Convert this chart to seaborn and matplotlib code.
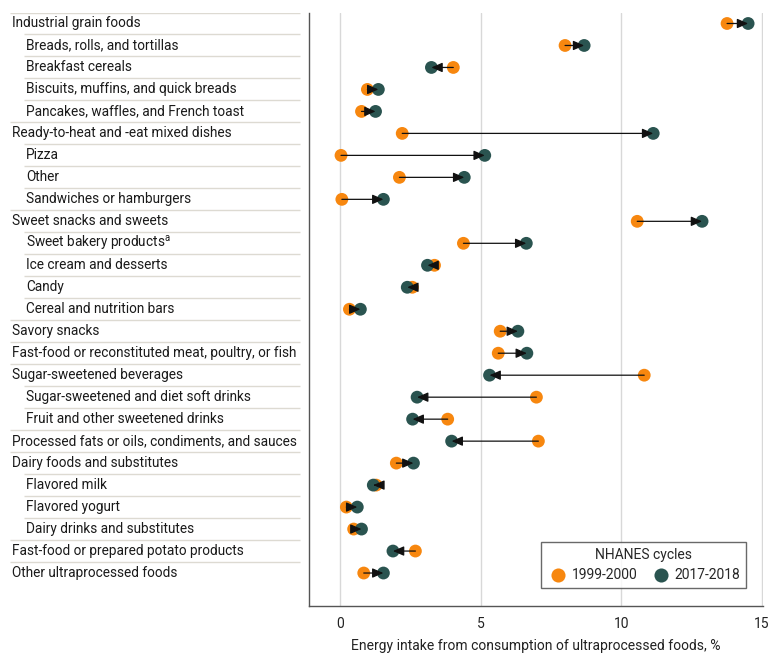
import matplotlib
matplotlib.use("Agg")
import matplotlib.pyplot as plt
import seaborn as sns
import pandas as pd

# categories (top to bottom); subcategories are indented
categories = [
    "Industrial grain foods", "Breads, rolls, and tortillas", "Breakfast cereals",
    "Biscuits, muffins, and quick breads", "Pancakes, waffles, and French toast",
    "Ready-to-heat and -eat mixed dishes", "Pizza", "Other", "Sandwiches or hamburgers",
    "Sweet snacks and sweets", "Sweet bakery products$^{\\mathregular{a}}$",
    "Ice cream and desserts", "Candy", "Cereal and nutrition bars", "Savory snacks",
    "Fast-food or reconstituted meat, poultry, or fish", "Sugar-sweetened beverages",
    "Sugar-sweetened and diet soft drinks", "Fruit and other sweetened drinks",
    "Processed fats or oils, condiments, and sauces", "Dairy foods and substitutes",
    "Flavored milk", "Flavored yogurt", "Dairy drinks and substitutes",
    "Fast-food or prepared potato products", "Other ultraprocessed foods",
]
is_sub = [0, 1, 1, 1, 1, 0, 1, 1, 1, 0, 1, 1, 1, 1, 0, 0, 0, 1, 1, 0, 0, 1, 1, 1, 0, 0]

cycle_1999 = [13.77, 8.00, 4.02, 0.96, 0.75, 2.20, 0.02, 2.10, 0.05, 10.57, 4.38, 3.35, 2.56,
              0.32, 5.69, 5.62, 10.82, 6.98, 3.82, 7.05, 1.99, 1.27, 0.21, 0.47, 2.67, 0.83]
cycle_2017 = [14.52, 8.68, 3.24, 1.35, 1.25, 11.14, 5.14, 4.41, 1.53, 12.88, 6.62, 3.10, 2.38,
              0.71, 6.32, 6.64, 5.31, 2.73, 2.57, 3.96, 2.60, 1.17, 0.60, 0.75, 1.87, 1.53]

cycles = ["1999-2000", "2017-2018"]
colors = ["#F7870F", "#2A5450"]
xticks = [0, 5, 10, 15]
xlabel = "Energy intake from consumption of ultraprocessed foods, %"

sns.set_theme(style="white")
plt.rcParams["font.family"] = ["Roboto", "DejaVu Sans"]

rows = list(range(len(categories)))
df = pd.DataFrame({
    "row": rows * 2,
    "value": cycle_1999 + cycle_2017,
    "cycle": [cycles[0]] * len(rows) + [cycles[1]] * len(rows),
})

fig = plt.figure(figsize=(7.8, 6.61), dpi=100)
W, H = 780, 661
ax = fig.add_axes([309 / W, 1 - 606 / H, 454 / W, (606 - 12.5) / H])
lab = fig.add_axes([0, 1 - 606 / H, 305 / W, (606 - 12.5) / H], sharey=ax)

sns.scatterplot(data=df, x="value", y="row", hue="cycle", palette=colors,
                s=85, linewidth=0, ax=ax, zorder=2)

# arrows from 1999-2000 to 2017-2018, drawn over the dots
for r, a, b in zip(rows, cycle_1999, cycle_2017):
    ax.annotate("", xy=(b, r), xytext=(a, r),
                arrowprops=dict(arrowstyle="-|>,head_length=0.55,head_width=0.24",
                                color="#111111", lw=0.9, shrinkA=0, shrinkB=0),
                zorder=3)

ax.set_ylim(26.5, -0.5)
ax.set_xlim(-1.12, 15.05)
ax.set_xticks(xticks)
ax.set_yticks([])
ax.set_ylabel("")
ax.set_xlabel(xlabel, fontsize=10, color="#222222", labelpad=6)
ax.tick_params(axis="x", length=4, color="#555555", labelsize=10, labelcolor="#222222", pad=4)
ax.grid(axis="x", color="#D8D8D8", lw=1)
for s in ["top", "right"]:
    ax.spines[s].set_visible(False)
for s in ["left", "bottom"]:
    ax.spines[s].set_color("#555555")
    ax.spines[s].set_linewidth(1)

leg = ax.legend(title="NHANES cycles", ncol=2, loc="lower right",
                bbox_to_anchor=(0.9626, 0.0303), borderaxespad=0,
                fancybox=False, edgecolor="#444444", fontsize=10, title_fontsize=10,
                handletextpad=0.2, columnspacing=0.9, handlelength=1.6, markerscale=1.1)
leg.get_frame().set_linewidth(1)

# label panel
lab.axis("off")
lab.set_xlim(0, 305)
for r, (name, sub) in enumerate(zip(categories, is_sub)):
    x0 = 24 if sub else 10
    lab.plot([x0, 300], [r - 0.5, r - 0.5], color="#DDDAD2", lw=1, solid_capstyle="butt")
    lab.text(26 if sub else 12, r, name, va="center", ha="left", fontsize=9.8, color="#1A1A1A")

fig.savefig("out.png", dpi=100)
